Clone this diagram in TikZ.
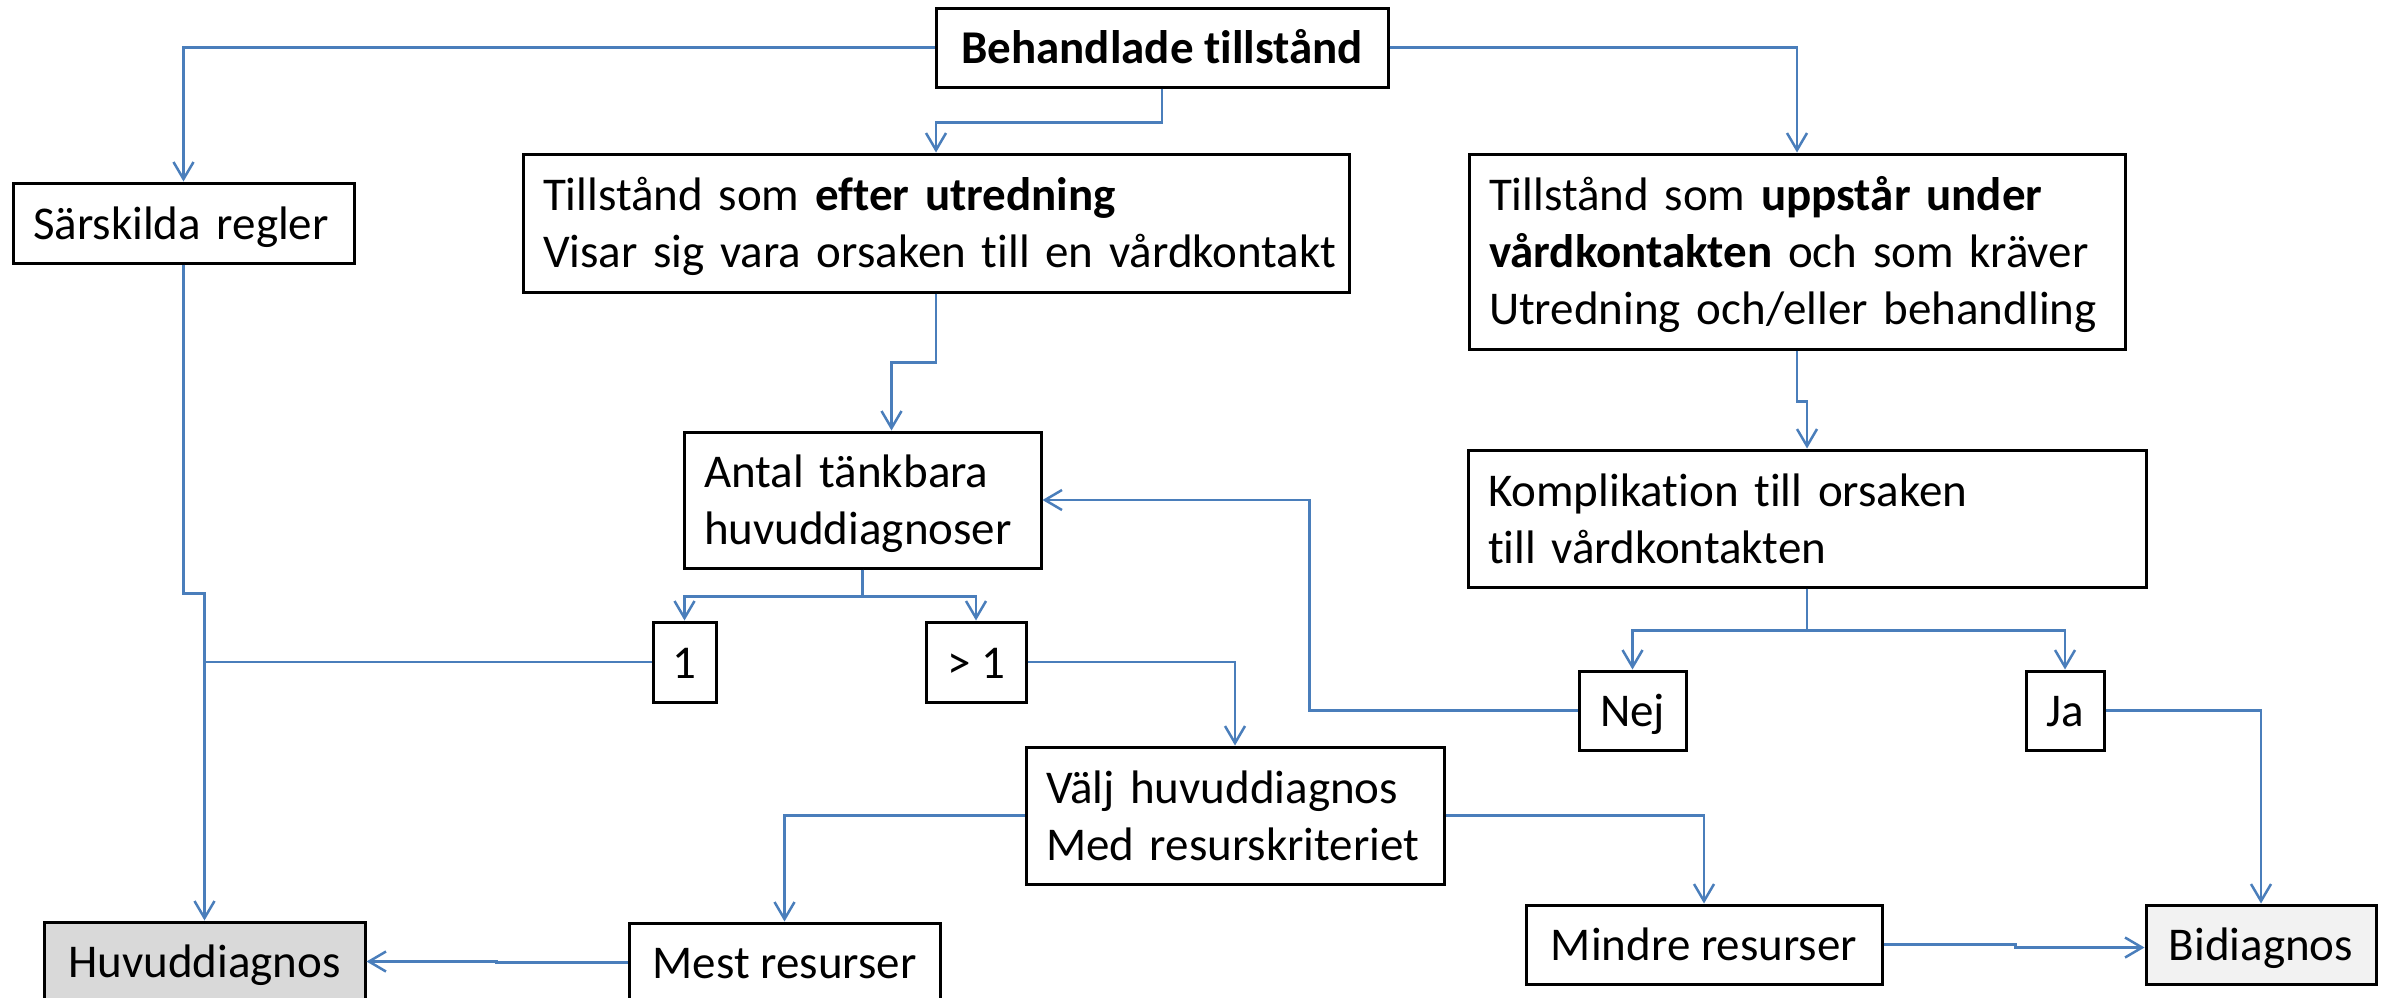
\documentclass[tikz,border=0pt]{standalone}
\usepackage{fontspec}
\setmainfont{Carlito}[Ligatures=NoCommon]
\usetikzlibrary{arrows.meta}
\definecolor{conncol}{HTML}{4A7EBB}
\definecolor{huvfill}{HTML}{D9D9D9}
\definecolor{bidfill}{HTML}{F2F2F2}
\newcommand\st{\rule[-12pt]{0pt}{56pt}}
\newcommand\txl[1]{\mbox{\st #1}}
\begin{document}
\begin{tikzpicture}[x=1pt,y=-1pt,
  box/.style={draw=black, line width=3pt, inner sep=0pt, font=\fontsize{47}{57}\selectfont},
  lbox/.style={box, align=left, inner xsep=20pt},
  conn/.style={draw=conncol, line width=2.5pt},
  arr/.style={conn, -{Straight Barb[length=17pt,width=20pt]}}]
\useasboundingbox (0,0) rectangle (2387,997);
\begin{scope}
\clip (0,0) rectangle (2387,997);
% boxes
\node[box, minimum width=452pt, minimum height=79pt] (beh) at (1162,47.5) {\txl{\textbf{Behandlade tillstånd}}};
\node[lbox, text width=301pt, minimum height=80pt] (sar) at (183.5,223) {\txl{Särskilda regler}};
\node[lbox, text width=786pt, minimum height=138pt] (eft) at (936,223) {\txl{Tillstånd som \textbf{efter utredning}}\\\txl{Visar sig vara orsaken till en vårdkontakt}};
\node[lbox, text width=616pt, minimum height=195pt] (upp) at (1797,251.5) {\txl{Tillstånd som \textbf{uppstår under}}\\\txl{\textbf{vårdkontakten} och som kräver}\\\txl{Utredning och/eller behandling}};
\node[lbox, text width=317pt, minimum height=136pt] (ant) at (862.5,500) {\txl{Antal tänkbara}\\\txl{huvuddiagnoser}};
\node[lbox, text width=638pt, minimum height=137pt] (kom) at (1807,518.5) {\txl{Komplikation till orsaken}\\\txl{till vårdkontakten}};
\node[box, minimum width=63pt, minimum height=80pt] (one) at (684.5,662) {\txl{1}};
\node[box, minimum width=100pt, minimum height=80pt] (gt) at (976,662) {\txl{> 1}};
\node[box, minimum width=107pt, minimum height=79pt] (nej) at (1632.5,710.5) {\txl{Nej}};
\node[box, minimum width=78pt, minimum height=79pt] (ja) at (2065,710.5) {\txl{Ja}};
\node[lbox, text width=378pt, minimum height=137pt] (valj) at (1235,815.5) {\txl{Välj huvuddiagnos}\\\txl{Med resurskriteriet}};
\node[box, fill=huvfill, minimum width=321pt, minimum height=79pt] (huv) at (204.5,961.5) {\txl{Huvuddiagnos}};
\node[box, minimum width=311pt, minimum height=79pt] (mest) at (784.5,962.5) {\txl{Mest resurser}};
\node[box, minimum width=356pt, minimum height=79pt] (mindre) at (1704,944.5) {\txl{Mindre resurser}};
\node[box, fill=bidfill, minimum width=230pt, minimum height=79pt] (bid) at (2261,944.5) {\txl{Bidiagnos}};
% connectors
\draw[arr] (beh.west) -| (sar.north);
\draw[arr] (beh.south) -- ++(0,34) -| (eft.north);
\draw[arr] (beh.east) -| (upp.north);
\draw[arr] (eft.south) -- ++(0,69) -| ([xshift=29pt]ant.north);
\draw[arr] (upp.south) -- ++(0,51) -| (kom.north);
\draw[arr] (ant.south) -- ++(0,27) -| (one.north);
\draw[arr] (ant.south) -- ++(0,27) -| (gt.north);
\draw[arr] (kom.south) -- ++(0,42) -| (nej.north);
\draw[arr] (kom.south) -- ++(0,42) -| (ja.north);
\draw[arr] (sar.south) -- ++(0,329) -| (huv.north);
\draw[conn] (one.west) -- (one.west -| huv.north);
\draw[arr] (gt.east) -| (valj.north);
\draw[arr] (nej.west) -- ++(-268,0) |- (ant.east);
\draw[arr] (ja.east) -| (bid.north);
\draw[arr] (valj.west) -| (mest.north);
\draw[arr] (valj.east) -| (mindre.north);
\draw[arr] (mest.west) -- ++(-131,0) |- (huv.east);
\draw[arr] (mindre.east) -- ++(132,0) |- ([yshift=-3pt]bid.west);
\end{scope}
\end{tikzpicture}
\end{document}
